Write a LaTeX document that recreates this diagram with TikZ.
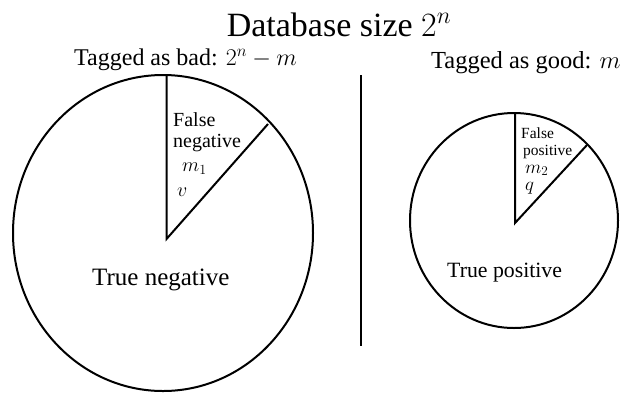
\RequirePackage{fix-cm}
\documentclass[tikz,border=0pt]{standalone}
\usepackage{fontspec}
\setmainfont{Liberation Serif}
\begin{document}
\begin{tikzpicture}[x=1pt,y=-1pt,
  stroke/.style={line width=2pt, line join=miter},
  lbl/.style={inner sep=0pt, anchor=base west},
  sz/.style={font=\fontsize{#1}{#1}\selectfont}]
\useasboundingbox (0,0) rectangle (631,392);
% title
\node[inner sep=0pt, anchor=base, sz=34] (title) at (339,36) {Database size $2^n$};
\node[lbl, sz=24] (bad) at (74,65) {Tagged as bad: $2^n-m$};
\node[lbl, sz=24.5] (good) at (431,68) {Tagged as good: $m$};
% left pie
\draw[stroke] (163,233) ellipse [x radius=150, y radius=158];
\coordinate (lc) at (166.5,239);
\coordinate (ltop) at (166.5,75);
\coordinate (lend) at (268,124);
\draw[stroke] (ltop) -- (lc) -- (lend);
\node[lbl, sz=20] (fn1) at (173,126) {False};
\node[lbl, sz=20] (fn2) at (173,147) {negative};
\node[lbl, sz=20] (m1) at (182,171) {$m_1$};
\node[lbl, sz=20] (v) at (177,196) {$v$};
\node[lbl, sz=25] (tn) at (92,285) {True negative};
% separator
\coordinate (s1) at (361,75);
\coordinate (s2) at (361,346);
\draw[stroke] (s1) -- (s2);
% right pie
\draw[stroke] (514,220.5) ellipse [x radius=104, y radius=107.5];
\coordinate (rc) at (515,223);
\coordinate (rtop) at (515,113);
\coordinate (rend) at (587,145);
\draw[stroke] (rtop) -- (rc) -- (rend);
\node[lbl, sz=15.5] (fp1) at (521,138) {False};
\node[lbl, sz=15.5] (fp2) at (523,155) {positive};
\node[lbl, sz=19] (m2) at (525,173) {$m_2$};
\node[lbl, sz=19] (q) at (525,190) {$q$};
\node[lbl, sz=21.8] (tp) at (447,277) {True positive};
\end{tikzpicture}
\end{document}
